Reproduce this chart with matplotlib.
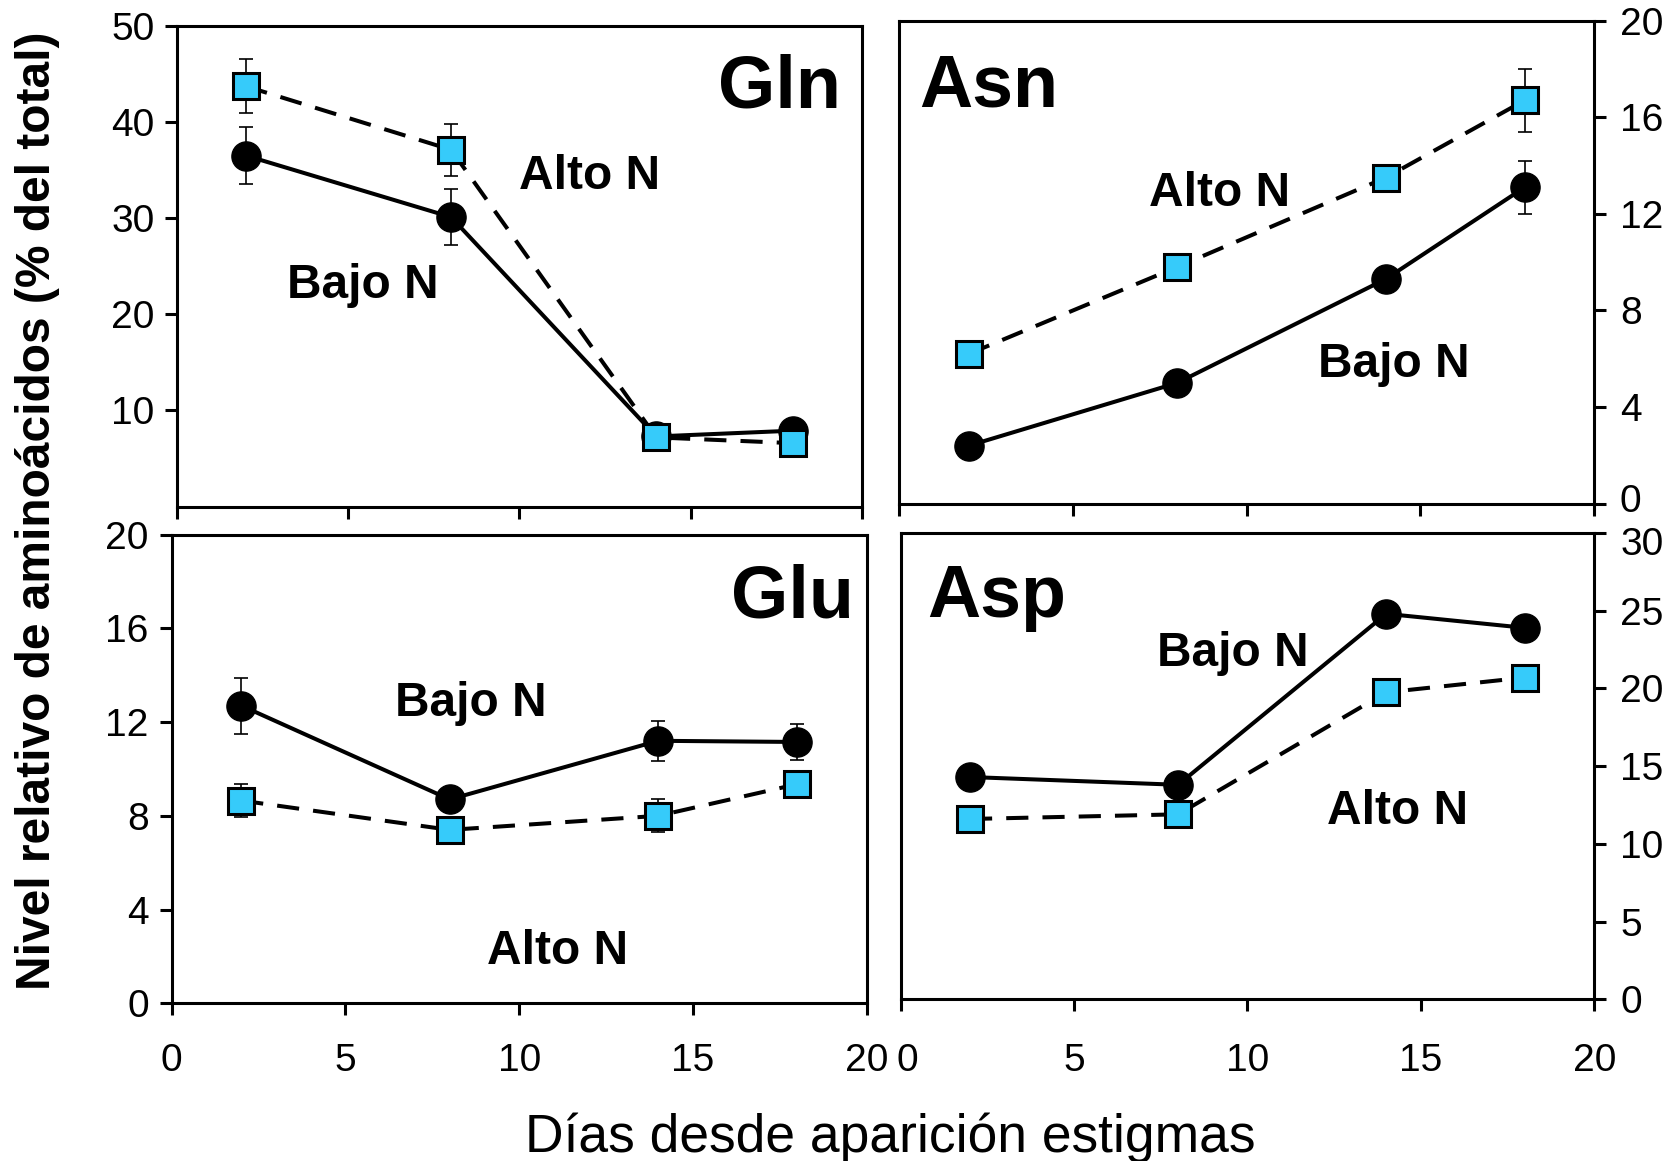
import matplotlib.pyplot as plt
from matplotlib.transforms import ScaledTranslation

plt.rcParams['font.family'] = ['Liberation Sans', 'DejaVu Sans']

dias = [2, 8, 14, 18]

# Gln
gln_bajo = [36.5, 30.1, 7.3, 7.9]
gln_bajo_err = [3.0, 2.9, 0, 0]
gln_alto = [43.7, 37.1, 7.2, 6.6]
gln_alto_err = [2.8, 2.7, 0, 0]

# Asn
asn_bajo = [2.4, 5.0, 9.3, 13.1]
asn_bajo_err = [0, 0, 0.3, 1.1]
asn_alto = [6.2, 9.8, 13.5, 16.7]
asn_alto_err = [0, 0, 0, 1.3]

# Glu
glu_bajo = [12.7, 8.7, 11.2, 11.15]
glu_bajo_err = [1.2, 0.4, 0.85, 0.75]
glu_alto = [8.65, 7.4, 8.0, 9.35]
glu_alto_err = [0.7, 0.3, 0.7, 0.4]

# Asp
asp_bajo = [14.3, 13.8, 24.8, 23.9]
asp_bajo_err = [0, 0, 0, 0]
asp_alto = [11.6, 11.9, 19.75, 20.7]
asp_alto_err = [0, 0, 0, 0]

xticks = [0, 5, 10, 15, 20]
celeste = '#36CBFA'
verde = '#114411'

fig = plt.figure(figsize=(16.79, 11.61), dpi=100)


def panel(rect, bajo, bajo_err, alto, alto_err, ylim, yticks, derecha, etiquetas_x):
    ax = fig.add_axes(rect)
    ax.errorbar(dias, bajo, yerr=bajo_err, fmt='none', ecolor='black',
                elinewidth=1.2, capsize=4.8, capthick=1.2, zorder=2)
    ax.errorbar(dias, alto, yerr=alto_err, fmt='none', ecolor='black',
                elinewidth=1.2, capsize=4.8, capthick=1.2, zorder=2)
    ax.plot(dias, bajo, '-', color='black', lw=2.9, marker='o', ms=21,
            mfc='black', mec='black', zorder=3)
    ax.plot(dias, alto, color='black', lw=2.9, ls=(0, (5.5, 3.5)), marker='s',
            ms=19, mfc=celeste, mec='black', mew=2.2, zorder=4)
    ax.set_xlim(0, 20)
    ax.set_ylim(*ylim)
    ax.set_xticks(xticks)
    ax.set_yticks(yticks)
    for s in ax.spines.values():
        s.set_linewidth(2.2)
    ax.tick_params(direction='out', length=8.5, width=2.2, labelsize=28)
    ax.tick_params(axis='x', pad=20, labelbottom=etiquetas_x)
    if derecha:
        ax.yaxis.tick_right()
        ax.tick_params(axis='y', pad=10)
    else:
        ax.tick_params(axis='y', pad=8)
    return ax


ax1 = panel([0.1056, 0.5636, 0.4076, 0.4143], gln_bajo, gln_bajo_err,
            gln_alto, gln_alto_err, (0, 50), [10, 20, 30, 40, 50], False, False)
ax2 = panel([0.5356, 0.5662, 0.4139, 0.4160], asn_bajo, asn_bajo_err,
            asn_alto, asn_alto_err, (0, 20), [0, 4, 8, 12, 16, 20], True, False)
ax3 = panel([0.1023, 0.1358, 0.4139, 0.4038], glu_bajo, glu_bajo_err,
            glu_alto, glu_alto_err, (0, 20), [0, 4, 8, 12, 16, 20], False, True)
ax4 = panel([0.5364, 0.1393, 0.4132, 0.4016], asp_bajo, asp_bajo_err,
            asp_alto, asp_alto_err, (0, 30), [0, 5, 10, 15, 20, 25, 30], True, True)
ax4.tick_params(axis='x', pad=23)

# ticks interiores del panel Gln en verde oscuro
for t in ax1.xaxis.get_major_ticks()[1:-1]:
    t.tick1line.set_color(verde)
for t in ax1.yaxis.get_major_ticks()[:-1]:
    t.tick1line.set_color(verde)

# separar un poco el "0" de Asn y el "30" de Asp
fig.canvas.draw()
lab0 = ax2.yaxis.get_major_ticks()[0].label2
lab0.set_transform(lab0.get_transform() + ScaledTranslation(0, 4 / 72, fig.dpi_scale_trans))
lab30 = ax4.yaxis.get_major_ticks()[-1].label2
lab30.set_transform(lab30.get_transform() + ScaledTranslation(0, -6 / 72, fig.dpi_scale_trans))
lab_x0 = ax4.xaxis.get_major_ticks()[0].label1
lab_x0.set_transform(lab_x0.get_transform() + ScaledTranslation(5 / 72, 0, fig.dpi_scale_trans))

grande = dict(fontsize=53, fontweight='bold', va='baseline')
medio = dict(fontsize=34.5, fontweight='bold', va='baseline')

ax1.text(19.4, 41.5, 'Gln', ha='right', **grande)
ax1.text(9.99, 32.97, 'Alto N', ha='left', **medio)
ax1.text(3.2, 21.7, 'Bajo N', ha='left', **medio)

ax2.text(0.56, 16.43, 'Asn', ha='left', **grande)
ax2.text(7.19, 12.34, 'Alto N', ha='left', **medio)
ax2.text(12.05, 5.25, 'Bajo N', ha='left', **medio)

ax3.text(19.62, 16.45, 'Glu', ha='right', **grande)
ax3.text(6.43, 12.24, 'Bajo N', ha='left', **medio)
ax3.text(9.08, 1.69, 'Alto N', ha='left', **medio)

ax4.text(0.77, 24.6, 'Asp', ha='left', **grande)
ax4.text(7.40, 21.44, 'Bajo N', ha='left', **medio)
ax4.text(12.28, 11.25, 'Alto N', ha='left', **medio)

fig.text(0.530, 0.008, 'Días desde aparición estigmas', ha='center',
         va='baseline', fontsize=38.4)
fig.text(0.0223, 0.56, 'Nivel relativo de aminoácidos (% del total)',
         ha='center', va='center', rotation=90, fontsize=34.5, fontweight='bold')

fig.savefig('out.png', dpi=100)
